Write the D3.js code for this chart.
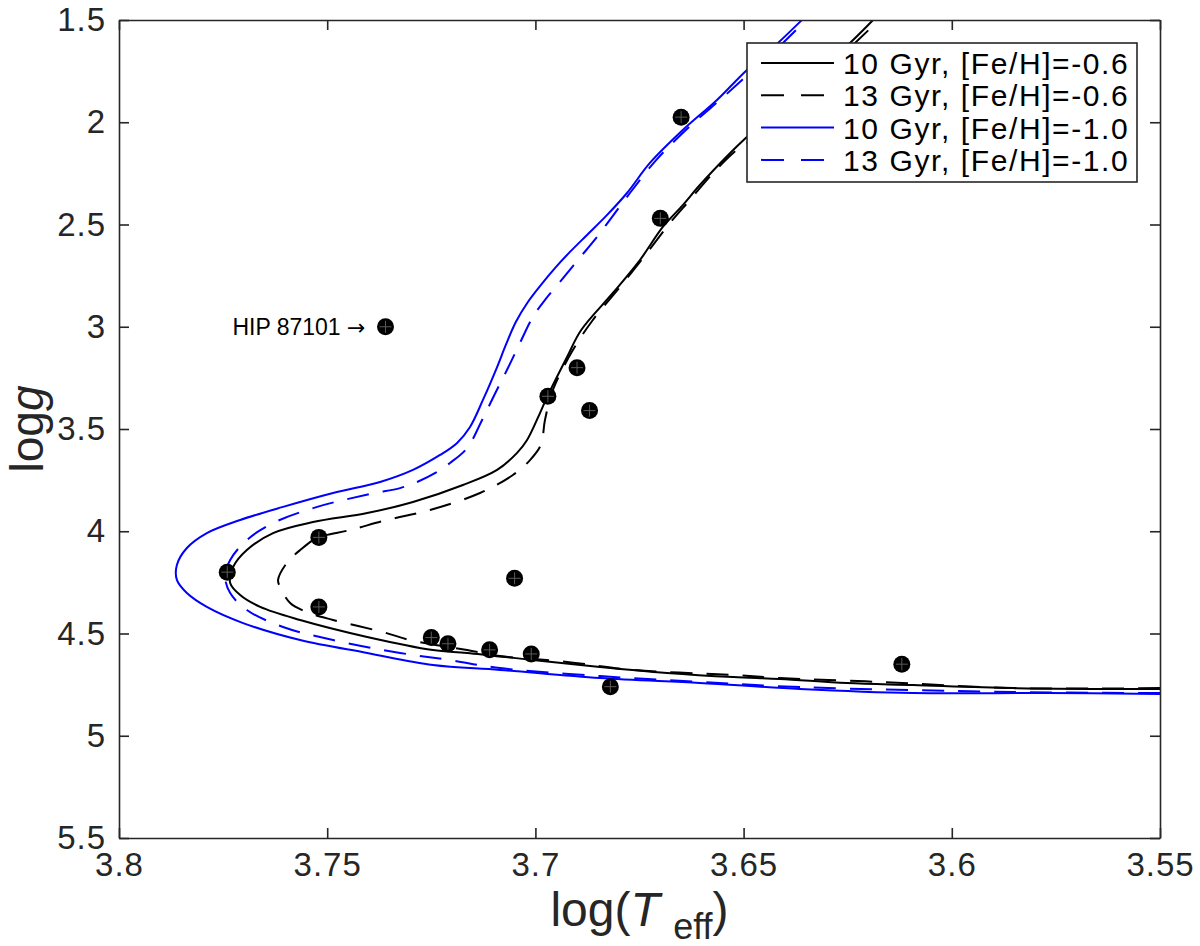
<!DOCTYPE html>
<html>
<head>
<meta charset="utf-8">
<script src="https://cdn.jsdelivr.net/npm/d3@7/dist/d3.min.js"></script>
<style>
  html, body { margin: 0; padding: 0; background: #fff; }
  svg { display: block; font-family: "Liberation Sans", Arial, Helvetica, sans-serif; }
</style>
</head>
<body>
<svg id="chart" width="1200" height="946"></svg>
<script>
// ---------------- data ----------------
const xTicks = [3.8, 3.75, 3.7, 3.65, 3.6, 3.55];
const xTickLabels = ["3.8", "3.75", "3.7", "3.65", "3.6", "3.55"];
const yTicks = [1.5, 2, 2.5, 3, 3.5, 4, 4.5, 5, 5.5];
const yTickLabels = ["1.5", "2", "2.5", "3", "3.5", "4", "4.5", "5", "5.5"];

// observed stars
const starTeff = [3.665, 3.670, 3.736, 3.690, 3.697, 3.687, 3.752, 3.774, 3.752, 3.705, 3.725, 3.721, 3.711, 3.701, 3.682, 3.612];
const starLogg = [1.975, 2.47, 3.00, 3.20, 3.34, 3.41, 4.03, 4.20, 4.37, 4.23, 4.52, 4.55, 4.58, 4.60, 4.76, 4.65];
const annotationText = "HIP 87101";
const annotationArrow = "\u2192";
const annotatedStar = 2;

// isochrones (logTeff, logg), from lower main sequence through turn-off to the giant branch
const iso10m06Teff = [3.550, 3.5853, 3.6093, 3.6252, 3.6413, 3.6525, 3.6684, 3.6845, 3.7006, 3.7164, 3.7246, 3.7404, 3.7565, 3.7661, 3.7709, 3.7733, 3.7726, 3.7693, 3.7630, 3.7534, 3.7404, 3.7294, 3.7174, 3.7092, 3.7044, 3.7020, 3.6989, 3.6972, 3.6924, 3.6890, 3.6814, 3.6749, 3.6694, 3.6646, 3.6605, 3.6525, 3.6492, 3.6247, 3.6189, 3.6165];
const iso10m06Logg = [4.771, 4.767, 4.752, 4.742, 4.722, 4.713, 4.693, 4.664, 4.630, 4.595, 4.581, 4.517, 4.434, 4.370, 4.312, 4.253, 4.175, 4.092, 4.009, 3.955, 3.911, 3.857, 3.774, 3.700, 3.617, 3.554, 3.422, 3.344, 3.148, 3.016, 2.835, 2.674, 2.512, 2.405, 2.307, 2.136, 2.072, 1.617, 1.500, 1.451];

const iso13m06Teff = [3.550, 3.5853, 3.6172, 3.6413, 3.6525, 3.6766, 3.6924, 3.7085, 3.7164, 3.7301, 3.7366, 3.7486, 3.7549, 3.7589, 3.7613, 3.7618, 3.7597, 3.7565, 3.7524, 3.7445, 3.7356, 3.7253, 3.7133, 3.7054, 3.7013, 3.6987, 3.6977, 3.6958, 3.6910, 3.6862, 3.6797, 3.6732, 3.6677, 3.6629, 3.6573, 3.6525, 3.6492, 3.6235, 3.6175, 3.6151];
const iso13m06Logg = [4.767, 4.767, 4.737, 4.718, 4.703, 4.678, 4.639, 4.610, 4.581, 4.532, 4.493, 4.434, 4.395, 4.351, 4.273, 4.238, 4.155, 4.092, 4.033, 3.994, 3.945, 3.896, 3.813, 3.725, 3.652, 3.578, 3.456, 3.309, 3.114, 2.967, 2.806, 2.639, 2.493, 2.380, 2.248, 2.150, 2.101, 1.617, 1.500, 1.451];

const iso10m10Teff = [3.550, 3.5771, 3.6093, 3.6365, 3.6605, 3.6845, 3.7085, 3.7246, 3.7404, 3.7565, 3.7702, 3.7789, 3.7837, 3.7861, 3.7861, 3.7837, 3.7789, 3.7709, 3.7606, 3.7486, 3.7373, 3.7294, 3.7229, 3.7188, 3.7157, 3.7126, 3.7092, 3.7071, 3.7047, 3.7018, 3.6987, 3.6953, 3.6917, 3.6876, 3.6830, 3.6780, 3.6725, 3.6646, 3.6564, 3.6492, 3.6420, 3.6360, 3.6336];
const iso10m10Logg = [4.796, 4.791, 4.791, 4.771, 4.742, 4.718, 4.678, 4.654, 4.595, 4.532, 4.449, 4.370, 4.302, 4.238, 4.165, 4.082, 4.009, 3.945, 3.881, 3.813, 3.759, 3.700, 3.627, 3.568, 3.490, 3.358, 3.197, 3.089, 2.977, 2.879, 2.796, 2.713, 2.634, 2.551, 2.458, 2.346, 2.199, 2.038, 1.891, 1.744, 1.617, 1.500, 1.451];

const iso13m10Teff = [3.550, 3.5853, 3.6365, 3.6605, 3.6845, 3.7085, 3.7205, 3.7325, 3.7486, 3.7606, 3.7693, 3.7733, 3.7745, 3.7733, 3.7693, 3.7630, 3.7524, 3.7397, 3.7325, 3.7284, 3.7236, 3.7205, 3.7164, 3.7128, 3.7095, 3.7066, 3.7037, 3.7006, 3.6975, 3.6941, 3.6898, 3.6852, 3.6814, 3.6773, 3.6710, 3.6631, 3.6549, 3.6485, 3.6408, 3.6350, 3.6326];
const iso13m10Logg = [4.791, 4.786, 4.762, 4.737, 4.708, 4.669, 4.630, 4.595, 4.532, 4.468, 4.385, 4.302, 4.224, 4.141, 4.043, 3.960, 3.881, 3.818, 3.789, 3.759, 3.710, 3.666, 3.593, 3.456, 3.319, 3.202, 3.079, 2.952, 2.864, 2.781, 2.674, 2.561, 2.458, 2.346, 2.185, 2.023, 1.877, 1.759, 1.617, 1.500, 1.451];

const seriesNames = ["10 Gyr, [Fe/H]=-0.6", "13 Gyr, [Fe/H]=-0.6", "10 Gyr, [Fe/H]=-1.0", "13 Gyr, [Fe/H]=-1.0"];
const seriesTeff = [iso10m06Teff, iso13m06Teff, iso10m10Teff, iso13m10Teff];
const seriesLogg = [iso10m06Logg, iso13m06Logg, iso10m10Logg, iso13m10Logg];

// ---------------- styles ----------------
const seriesColor = ["#000000", "#000000", "#0000ff", "#0000ff"];
const seriesDash = [null, "22,14", null, "22,14"];
const axisColor = "#262626";

// ---------------- layout ----------------
const svg = d3.select("#chart");
const plot = { left: 119, right: 1160, top: 20, bottom: 838 };

const x = d3.scaleLinear().domain([3.8, 3.55]).range([plot.left, plot.right]);
const y = d3.scaleLinear().domain([1.5, 5.5]).range([plot.top, plot.bottom]);

svg.append("defs").append("clipPath").attr("id", "clip")
  .append("rect")
  .attr("x", plot.left).attr("y", plot.top)
  .attr("width", plot.right - plot.left).attr("height", plot.bottom - plot.top);

// isochrone lines
const line = d3.line()
  .x(d => x(d[0])).y(d => y(d[1]))
  .curve(d3.curveCatmullRom.alpha(0.5));

const lineG = svg.append("g").attr("clip-path", "url(#clip)");
seriesNames.forEach((name, i) => {
  const pts = seriesTeff[i].map((t, k) => [t, seriesLogg[i][k]]);
  lineG.append("path")
    .datum(pts)
    .attr("d", line)
    .attr("fill", "none")
    .attr("stroke", seriesColor[i])
    .attr("stroke-width", 2)
    .attr("stroke-dasharray", seriesDash[i]);
});

// stars
const stars = starTeff.map((t, k) => ({ t, g: starLogg[k] }));
const starG = svg.append("g").attr("clip-path", "url(#clip)");
const sg = starG.selectAll("g.star").data(stars).enter().append("g")
  .attr("class", "star")
  .attr("transform", d => `translate(${x(d.t)},${y(d.g)})`);
sg.append("circle").attr("r", 8.5).attr("fill", "#000");
sg.append("path").attr("d", "M-6,0H6M0,-6V6").attr("stroke", "#5a5a5a").attr("stroke-width", 1);

// annotation
const ann = stars[annotatedStar];
const at = svg.append("text")
  .attr("x", x(ann.t) - 20).attr("y", y(ann.g) + 8)
  .attr("text-anchor", "end")
  .attr("font-size", 23)
  .attr("fill", "#000");
at.append("tspan").text(annotationText + " ");
at.append("tspan").attr("font-family", "DejaVu Sans").attr("font-size", 22).text(annotationArrow);

// axes (box with inward ticks)
const axisStyle = g => {
  g.selectAll(".domain").attr("stroke", axisColor).attr("stroke-width", 1.6);
  g.selectAll(".tick line").attr("stroke", axisColor).attr("stroke-width", 1.6);
  g.selectAll(".tick text").attr("fill", axisColor).attr("font-size", 33)
    .attr("letter-spacing", 1).attr("font-family", "Liberation Sans, Arial, sans-serif");
};

svg.append("g").attr("transform", `translate(0,${plot.bottom})`)
  .call(d3.axisBottom(x).tickValues(xTicks).tickFormat((d, i) => xTickLabels[i])
    .tickSizeInner(-10).tickSizeOuter(0).tickPadding(15))
  .call(axisStyle);

svg.append("g").attr("transform", `translate(0,${plot.top})`)
  .call(d3.axisTop(x).tickValues(xTicks).tickFormat("")
    .tickSizeInner(-10).tickSizeOuter(0))
  .call(axisStyle);

svg.append("g").attr("transform", `translate(${plot.left},0)`)
  .call(d3.axisLeft(y).tickValues(yTicks).tickFormat((d, i) => yTickLabels[i])
    .tickSizeInner(-10).tickSizeOuter(0).tickPadding(13))
  .call(axisStyle);

svg.append("g").attr("transform", `translate(${plot.right},0)`)
  .call(d3.axisRight(y).tickValues(yTicks).tickFormat("")
    .tickSizeInner(-10).tickSizeOuter(0))
  .call(axisStyle);

// axis labels
const xl = svg.append("text")
  .attr("x", (plot.left + plot.right) / 2).attr("y", 926)
  .attr("text-anchor", "middle").attr("font-size", 48).attr("fill", axisColor);
xl.append("tspan").text("log(");
xl.append("tspan").attr("font-style", "italic").text("T");
xl.append("tspan").text(" ");
xl.append("tspan").attr("font-size", 36).attr("dy", 13).text("eff");
xl.append("tspan").attr("dy", -13).text(")");

const yl = svg.append("text")
  .attr("transform", `translate(43,${(plot.top + plot.bottom) / 2}) rotate(-90)`)
  .attr("text-anchor", "middle").attr("font-size", 46).attr("fill", axisColor);
yl.append("tspan").text("log");
yl.append("tspan").attr("font-style", "italic").text("g");

// legend
const leg = { x: 747, y: 43, w: 390, h: 139, row0: 63, rowH: 32.3 };
const lg = svg.append("g");
lg.append("rect").attr("x", leg.x).attr("y", leg.y).attr("width", leg.w).attr("height", leg.h)
  .attr("fill", "#fff").attr("stroke", axisColor).attr("stroke-width", 1.6);
seriesNames.forEach((name, i) => {
  const yy = leg.row0 + i * leg.rowH;
  lg.append("line").attr("x1", 761).attr("x2", 834).attr("y1", yy).attr("y2", yy)
    .attr("stroke", seriesColor[i]).attr("stroke-width", 2)
    .attr("stroke-dasharray", seriesDash[i] ? "23,17" : null);
  lg.append("text").attr("x", 843).attr("y", yy + 11)
    .attr("font-size", 30).attr("letter-spacing", 1.6).attr("fill", "#000")
    .text(name);
});
</script>
</body>
</html>
